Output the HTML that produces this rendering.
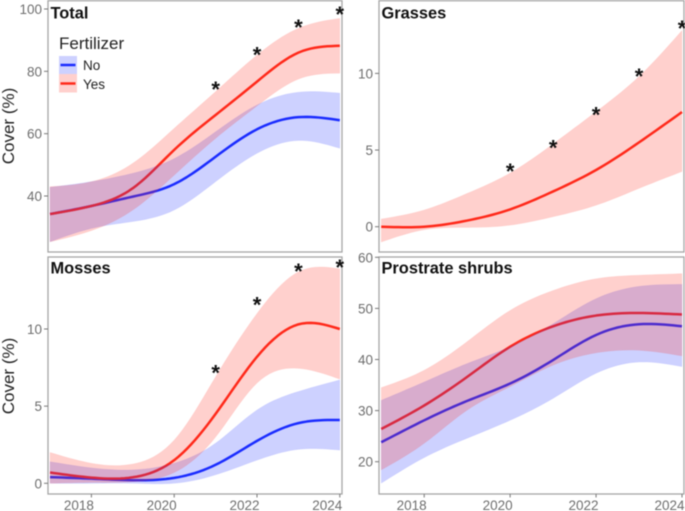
<!DOCTYPE html>
<html>
<head>
<meta charset="utf-8">
<style>
html,body{margin:0;padding:0;background:#fff;width:685px;height:511px;overflow:hidden}
svg{display:block;font-family:"Liberation Sans",Arial,sans-serif;filter:blur(0.4px)}
</style>
</head>
<body>
<svg id="chart" xmlns="http://www.w3.org/2000/svg" width="685" height="511" viewBox="0 0 685 511">
  <rect x="0" y="0" width="685" height="511" fill="#fff"/>
  <g id="panels"></g>
  <text transform="translate(14,126) rotate(-90)" text-anchor="middle" font-size="17" fill="#222">Cover (%)</text>
  <text transform="translate(14,376) rotate(-90)" text-anchor="middle" font-size="17" fill="#222">Cover (%)</text>
  <g>
    <text x="59" y="49" font-size="17" fill="#222">Fertilizer</text>
    <g>
      <rect x="59" y="56" width="18" height="18" fill="#1a2cff" fill-opacity="0.22"/>
      <line x1="60.5" x2="75.5" y1="65" y2="65" stroke="#1a2cff" stroke-width="2.5"/>
      <text x="83" y="70" font-size="13.5" fill="#222">No</text>
    </g>
    <g>
      <rect x="59" y="74" width="18" height="18.5" fill="#ff2a1a" fill-opacity="0.22"/>
      <line x1="60.5" x2="75.5" y1="83.5" y2="83.5" stroke="#ff2a1a" stroke-width="2.5"/>
      <text x="83" y="89" font-size="13.5" fill="#222">Yes</text>
    </g>
  </g>
</svg>
<script>
// ---- Shared categories ----
const years = [2017,2018,2019,2020,2021,2022,2023,2024];
const xTickLabels = [2018,2020,2022,2024];

// ---- Total ----
const totalYesMean = [34.2,36.8,42.5,54.8,66,76.7,86,88.2];
const totalYesUpper = [43,44.6,50.5,61.7,73.5,85.2,93.8,97];
const totalYesLower = [25.3,28.9,35.5,46.7,58.5,68.9,77.5,79.4];
const totalNoMean = [34.2,36.8,39.8,43.8,52.6,61.4,65.3,64.3];
const totalNoUpper = [42.8,44.6,47.3,52,60.6,69.2,73.3,73];
const totalNoLower = [25.3,29.6,31.8,35.5,44.6,53.7,57.8,55.3];
const totalStarYears = [2021,2022,2023,2024];
const totalStarValues = [75.4,86.5,95.4,99.5];
const totalYTicks = [40,60,80,100];

// ---- Grasses ----
const grassYesMean = [0,0,0.4,1.13,2.3,3.7,5.5,7.48];
const grassYesUpper = [0.5,1.09,2.17,3.5,5.4,7.5,9.8,12.8];
const grassYesLower = [-1,-0.2,-0.05,0.1,0.65,1.4,2.5,3.6];
const grassStarYears = [2020,2021,2022,2023,2024];
const grassStarValues = [3.85,5.4,7.55,10.05,13.2];
const grassYTicks = [0,5,10];

// ---- Mosses ----
const mossYesMean = [0.7,0.37,0.39,1.5,4.5,8.2,10.3,10];
const mossYesUpper = [2,1.3,1.25,2.8,6.9,11,13.7,13.9];
const mossYesLower = [0,0.05,0.1,0.7,3,6.5,7.45,6.75];
const mossNoMean = [0.4,0.3,0.2,0.35,1.2,2.75,3.9,4.1];
const mossNoUpper = [1.4,1,0.87,1.3,2.6,4.75,5.95,6.7];
const mossNoLower = [0,0,0,0,0.55,1.5,2.2,2.15];
const mossStarYears = [2021,2022,2023,2024];
const mossStarValues = [7.4,11.8,14,14.25];
const mossYTicks = [0,5,10];

// ---- Prostrate shrubs ----
const shrubYesMean = [26.4,31,36.6,42.5,46.5,48.6,49.1,48.8];
const shrubYesUpper = [34.5,37.9,43.5,49.6,53.5,55.8,56.5,56.8];
const shrubYesLower = [18.4,23.6,30.1,34.7,38.9,41.3,41.8,40.7];
const shrubNoMean = [23.8,28.1,31.9,35.3,39.9,44.8,46.9,46.5];
const shrubNoUpper = [32,35.6,39.2,42.5,47,51.9,54.3,54.7];
const shrubNoLower = [15.8,20.8,24.6,28.1,32.4,37.3,39.5,38.6];
const shrubYTicks = [20,30,40,50,60];

const SVGNS = 'http://www.w3.org/2000/svg';
const RED = '#ff2a1a';
const BLUE = '#1a2cff';
const root = document.getElementById('panels');

function linear(d0, d1, r0, r1) {
  return function (v) { return r0 + (v - d0) * (r1 - r0) / (d1 - d0); };
}
function make(tag, attrs, parent) {
  const el = document.createElementNS(SVGNS, tag);
  for (const k in attrs) el.setAttribute(k, attrs[k]);
  parent.appendChild(el);
  return el;
}
// Natural cubic spline through the yearly estimates, sampled for drawing.
function smoothCurve(xs, ys) {
  const n = xs.length;
  const y2 = new Array(n).fill(0);
  const u = new Array(n).fill(0);
  for (let i = 1; i < n - 1; i++) {
    const sig = (xs[i] - xs[i - 1]) / (xs[i + 1] - xs[i - 1]);
    const p = sig * y2[i - 1] + 2;
    y2[i] = (sig - 1) / p;
    const d = (ys[i + 1] - ys[i]) / (xs[i + 1] - xs[i]) - (ys[i] - ys[i - 1]) / (xs[i] - xs[i - 1]);
    u[i] = (6 * d / (xs[i + 1] - xs[i - 1]) - sig * u[i - 1]) / p;
  }
  for (let k = n - 2; k >= 0; k--) y2[k] = y2[k] * y2[k + 1] + u[k];
  const out = [];
  for (let i = 0; i < n - 1; i++) {
    const h = xs[i + 1] - xs[i];
    for (let s = 0; s < 10; s++) {
      const x = xs[i] + h * s / 10;
      const a = (xs[i + 1] - x) / h, b = (x - xs[i]) / h;
      out.push([x, a * ys[i] + b * ys[i + 1] + ((a * a * a - a) * y2[i] + (b * b * b - b) * y2[i + 1]) * h * h / 6]);
    }
  }
  out.push([xs[n - 1], ys[n - 1]]);
  return out;
}
function toPixels(curve, sx, sy) {
  return curve.map(function (p) { return sx(p[0]).toFixed(2) + ',' + sy(p[1]).toFixed(2); });
}
function linePath(xs, ys, sx, sy) {
  return 'M' + toPixels(smoothCurve(xs, ys), sx, sy).join(' L');
}
function ribbonPath(xs, upper, lower, sx, sy) {
  const top = toPixels(smoothCurve(xs, upper), sx, sy);
  const bot = toPixels(smoothCurve(xs, lower), sx, sy).reverse();
  return 'M' + top.concat(bot).join(' L') + ' Z';
}

function drawPanel(cfg) {
  const g = make('g', {}, root);
  
  
  const sx = linear(2018, 2024, cfg.x2018, cfg.x2024);
  const sy = linear(cfg.v0, cfg.v1, cfg.y0, cfg.y1);

  // Lines first, ribbons on top (this is what tints a line crossing the other ribbon).
  cfg.series.forEach(function (s) {
    const line = make('path', { d: linePath(years, s.mean, sx, sy), fill: 'none', stroke: s.color, 'stroke-width': 2.5, 'stroke-linejoin': 'round' }, g);
    
    
  });
  cfg.series.forEach(function (s) {
    const rib = make('path', { d: ribbonPath(years, s.upper, s.lower, sx, sy), fill: s.color, 'fill-opacity': 0.22, stroke: s.color, 'stroke-opacity': 0.08, 'stroke-width': 0.6 }, g);
    
    
  });

  const border = make('rect', { x: cfg.left, y: cfg.top, width: cfg.right - cfg.left, height: cfg.bottom - cfg.top, fill: 'none', stroke: '#a6a6a6', 'stroke-width': 1.3 }, g);
  
  

  cfg.yTicks.forEach(function (t) {
    const tick = make('line', { x1: cfg.left - 4, x2: cfg.left, y1: sy(t), y2: sy(t), stroke: '#777', 'stroke-width': 1 }, g);
    
    
    const lab = make('text', { x: cfg.left - 6, y: sy(t) + 5, 'text-anchor': 'end', 'font-size': 13.5, fill: '#6e6e6e' }, g);
    
    
    lab.textContent = t;
  });

  if (cfg.showX) {
    xTickLabels.forEach(function (t) {
      const tick = make('line', { x1: sx(t), x2: sx(t), y1: cfg.bottom, y2: cfg.bottom + 3.5, stroke: '#777', 'stroke-width': 1 }, g);
      
      
      const lab = make('text', { x: sx(t) + 2.5, y: 510, 'text-anchor': 'end', 'font-size': 13.5, fill: '#6e6e6e' }, g);
      
      
      lab.textContent = t;
    });
  }

  cfg.starYears.forEach(function (yr, i) {
    const star = make('text', { x: sx(yr), y: sy(cfg.starValues[i]) + 11.5, 'text-anchor': 'middle', 'font-size': 22, 'font-weight': 'bold', fill: '#111' }, g);
    
    
    star.textContent = '*';
  });

  const title = make('text', { x: cfg.left + 2.5, y: cfg.titleY, 'font-size': 16.4, 'font-weight': 'bold', fill: '#111' }, g);
  
  
  title.textContent = cfg.title;
}

drawPanel({
  slug: 'total', title: 'Total', titleY: 18.5, left: 48, right: 342, top: 0.7, bottom: 252,
  x2018: 91.4, x2024: 339.8, v0: 100, v1: 40, y0: 9, y1: 196,
  yTicks: totalYTicks, showX: false, starYears: totalStarYears, starValues: totalStarValues,
  series: [
    { key: 'no', color: BLUE, mean: totalNoMean, upper: totalNoUpper, lower: totalNoLower },
    { key: 'yes', color: RED, mean: totalYesMean, upper: totalYesUpper, lower: totalYesLower }
  ]
});
drawPanel({
  slug: 'grasses', title: 'Grasses', titleY: 18.5, left: 379, right: 684, top: 0.7, bottom: 252,
  x2018: 424.2, x2024: 682, v0: 0, v1: 10, y0: 226.7, y1: 73.4,
  yTicks: grassYTicks, showX: false, starYears: grassStarYears, starValues: grassStarValues,
  series: [
    { key: 'yes', color: RED, mean: grassYesMean, upper: grassYesUpper, lower: grassYesLower }
  ]
});
drawPanel({
  slug: 'mosses', title: 'Mosses', titleY: 273.5, left: 48, right: 342, top: 257, bottom: 494,
  x2018: 91.4, x2024: 339.8, v0: 0, v1: 10, y0: 483.3, y1: 329,
  yTicks: mossYTicks, showX: true, starYears: mossStarYears, starValues: mossStarValues,
  series: [
    { key: 'no', color: BLUE, mean: mossNoMean, upper: mossNoUpper, lower: mossNoLower },
    { key: 'yes', color: RED, mean: mossYesMean, upper: mossYesUpper, lower: mossYesLower }
  ]
});
drawPanel({
  slug: 'prostrate-shrubs', title: 'Prostrate shrubs', titleY: 273.5, left: 379, right: 684, top: 257, bottom: 494,
  x2018: 424.2, x2024: 682, v0: 20, v1: 60, y0: 461.7, y1: 257.3,
  yTicks: shrubYTicks, showX: true, starYears: [], starValues: [],
  series: [
    { key: 'no', color: BLUE, mean: shrubNoMean, upper: shrubNoUpper, lower: shrubNoLower },
    { key: 'yes', color: RED, mean: shrubYesMean, upper: shrubYesUpper, lower: shrubYesLower }
  ]
});
</script>
</body>
</html>
